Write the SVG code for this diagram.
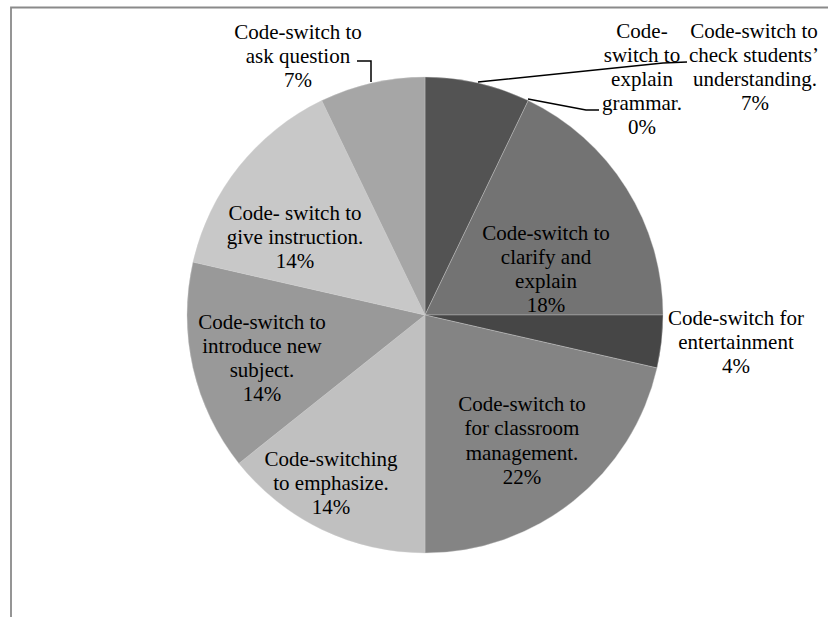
<svg xmlns="http://www.w3.org/2000/svg" width="828" height="617" viewBox="0 0 828 617">
<style>
.t{font-family:'Liberation Serif',Tinos,'Times New Roman',Times,'DejaVu Serif','Noto Serif',serif;font-size:21px;fill:#000;text-anchor:middle}
.s{stroke:#d0d0d0;stroke-width:0.6;stroke-opacity:0.6}
.ld{fill:none;stroke:#000;stroke-width:1.5}
</style>
<rect x="0" y="0" width="828" height="617" fill="#fff"/>
<path d="M11,617 L11,7.5 L828,7.5" fill="none" stroke="#8a8a8a" stroke-width="1.8"/>
<g id="slice-check"><path class="s" d="M425,315 L425,77 A238,238 0 0 1 528.26,100.57 Z" fill="#535353"/></g>
<g id="slice-clarify"><path class="s" d="M425,315 L528.26,100.57 A238,238 0 0 1 663,315 Z" fill="#737373"/></g>
<g id="slice-entertainment"><path class="s" d="M425,315 L663,315 A238,238 0 0 1 657.03,367.96 Z" fill="#464646"/></g>
<g id="slice-classroom"><path class="s" d="M425,315 L657.03,367.96 A238,238 0 0 1 425,553 Z" fill="#848484"/></g>
<g id="slice-emphasize"><path class="s" d="M425,315 L425,553 A238,238 0 0 1 238.92,463.39 Z" fill="#c0c0c0"/></g>
<g id="slice-introduce"><path class="s" d="M425,315 L238.92,463.39 A238,238 0 0 1 192.97,262.04 Z" fill="#999999"/></g>
<g id="slice-instruction"><path class="s" d="M425,315 L192.97,262.04 A238,238 0 0 1 321.74,100.57 Z" fill="#c8c8c8"/></g>
<g id="slice-ask"><path class="s" d="M425,315 L321.74,100.57 A238,238 0 0 1 425,77 Z" fill="#a6a6a6"/></g>
<g id="connectors">
<polyline class="ld" points="357,61 371,61 371,82"/>
<polyline class="ld" points="478,82 663,63 687,62"/>
<polyline class="ld" points="528,99 586,110 599,110"/>
</g>
<g id="label-ask"><text class="t" x="298" y="39">Code-switch to</text><text class="t" x="298" y="63">ask question</text><text class="t" x="298" y="87">7%</text></g>
<g id="label-grammar"><text class="t" x="642" y="38">Code-</text><text class="t" x="642" y="62">switch to</text><text class="t" x="642" y="86">explain</text><text class="t" x="642" y="110">grammar.</text><text class="t" x="642" y="134">0%</text></g>
<g id="label-check"><text class="t" x="754" y="38">Code-switch to</text><text class="t" x="754" y="62">check students’</text><text class="t" x="755" y="86">understanding.</text><text class="t" x="755" y="110">7%</text></g>
<g id="label-clarify"><text class="t" x="546" y="240">Code-switch to</text><text class="t" x="546" y="264">clarify and</text><text class="t" x="546" y="288">explain</text><text class="t" x="546" y="312">18%</text></g>
<g id="label-entertainment"><text class="t" x="736" y="325">Code-switch for</text><text class="t" x="736" y="349">entertainment</text><text class="t" x="736" y="373">4%</text></g>
<g id="label-classroom"><text class="t" x="522" y="411">Code-switch to</text><text class="t" x="522" y="435">for classroom</text><text class="t" x="522" y="460">management.</text><text class="t" x="522" y="484">22%</text></g>
<g id="label-emphasize"><text class="t" x="331" y="466">Code-switching</text><text class="t" x="331" y="490">to emphasize.</text><text class="t" x="331" y="514">14%</text></g>
<g id="label-introduce"><text class="t" x="262" y="329">Code-switch to</text><text class="t" x="262" y="353">introduce new</text><text class="t" x="262" y="377">subject.</text><text class="t" x="262" y="401">14%</text></g>
<g id="label-instruction"><text class="t" x="295" y="220">Code- switch to</text><text class="t" x="295" y="244">give instruction.</text><text class="t" x="295" y="268">14%</text></g>
</svg>
